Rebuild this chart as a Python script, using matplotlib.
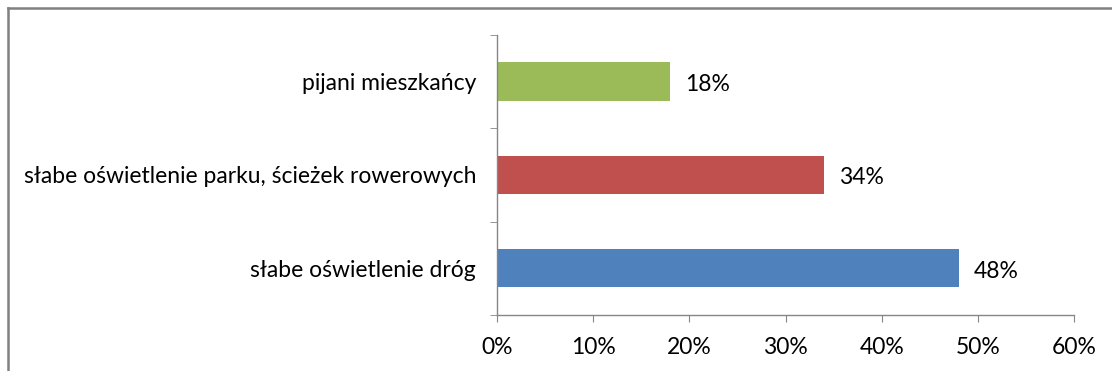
import matplotlib.pyplot as plt
from matplotlib.lines import Line2D
from matplotlib.ticker import FixedLocator, PercentFormatter

categories = ["słabe oświetlenie dróg", "słabe oświetlenie parku, ścieżek rowerowych", "pijani mieszkańcy"]
values = [48, 34, 18]
colors = ["#4F81BD", "#C0504D", "#9BBB59"]

plt.rcParams['font.family'] = ['Lato', 'DejaVu Sans']

fig = plt.figure(figsize=(11.12, 3.71), dpi=100)
ax = fig.add_axes([0.447, 0.151, 0.519, 0.755])

ypos = range(len(categories))
bars = ax.barh(ypos, values, height=0.41, color=colors)

for bar, v in zip(bars, values):
    ax.annotate(f"{v}%", (bar.get_width(), bar.get_y() + bar.get_height() / 2),
                xytext=(11, -2), textcoords="offset points", va="center", ha="left",
                fontsize=16.5)

ax.set_xlim(0, 60)
ax.set_ylim(-0.5, 2.5)
ax.set_xticks(range(0, 61, 10))
ax.xaxis.set_major_formatter(PercentFormatter(decimals=0))
ax.set_yticks(list(ypos))
ax.set_yticklabels(categories)
ax.yaxis.set_minor_locator(FixedLocator([-0.5, 0.5, 1.5, 2.5]))

for s in ["top", "right"]:
    ax.spines[s].set_visible(False)
for s in ["left", "bottom"]:
    ax.spines[s].set_color("#868686")
    ax.spines[s].set_linewidth(1.0)

ax.tick_params(axis="y", which="major", length=0, pad=15, labelsize=16.5)
ax.tick_params(axis="y", which="minor", length=5, color="#868686")
ax.tick_params(axis="x", which="major", length=5, color="#868686", pad=11, labelsize=16.5)

# outer chart border (only left and top visible in the crop)
fig.add_artist(Line2D([7.5 / 1112, 7.5 / 1112], [0, 1 - 7.5 / 371], transform=fig.transFigure,
                      color="#808080", linewidth=1.8))
fig.add_artist(Line2D([7.5 / 1112, 1], [1 - 7.5 / 371, 1 - 7.5 / 371], transform=fig.transFigure,
                      color="#808080", linewidth=1.8))

fig.savefig("out.png", dpi=100)
